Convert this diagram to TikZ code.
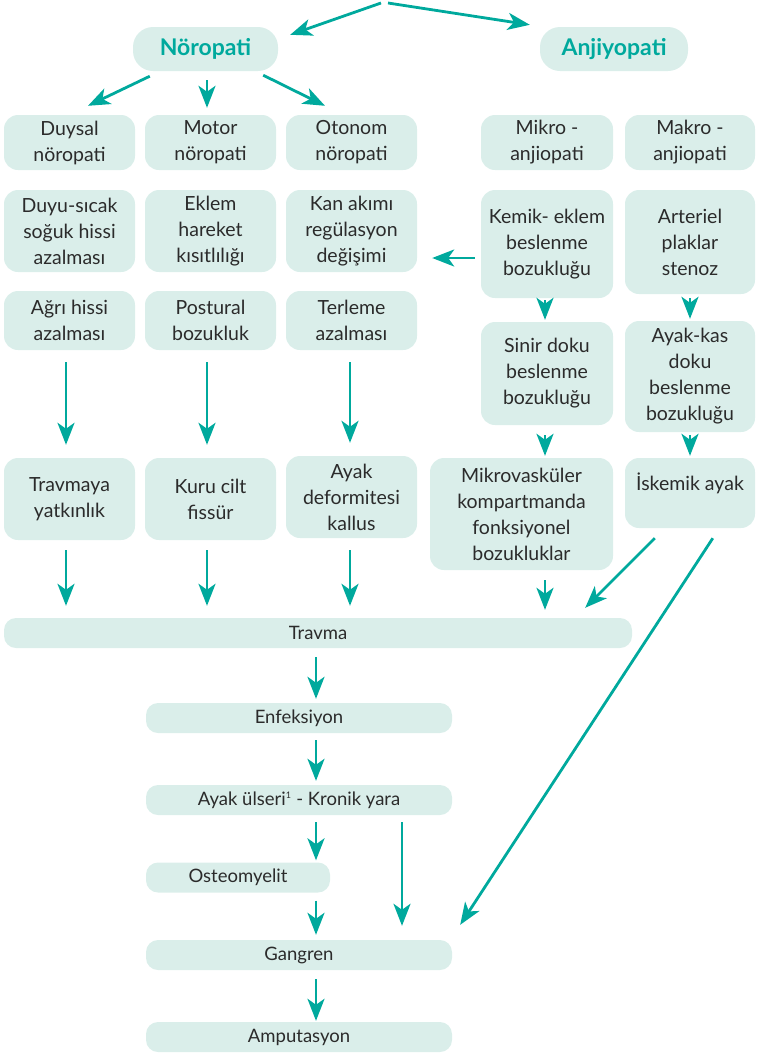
\documentclass[tikz,border=0pt]{standalone}
\usepackage{fontspec}
\setmainfont{Lato}
\usetikzlibrary{arrows.meta}
\definecolor{boxc}{HTML}{DAEEEA}
\definecolor{arr}{HTML}{00A99D}
\definecolor{txt}{HTML}{2B2B2B}
\begin{document}
\begin{tikzpicture}[x=1pt,y=-1pt,
  box/.style={fill=boxc, rounded corners=14pt, align=center, text=txt, inner sep=0pt,
    font=\fontsize{19.5}{26}\selectfont},
  wbox/.style={box, rounded corners=12pt, font=\fontsize{18.5}{22}\selectfont},
  head/.style={box, rounded corners=20pt, text=arr, font=\fontsize{23}{24}\selectfont\bfseries},
  arrow/.style={draw=arr, line width=2.8pt, -{Stealth[length=22pt,width=17pt,inset=6pt]}}]
\useasboundingbox (0,0) rectangle (758,1053);
% headers
\coordinate (top) at (384,3);
\node[head, minimum width=145, minimum height=44] (nor) at (205.5,49) {Nöropati};
\node[head, minimum width=148, minimum height=44] (anj) at (614,49) {Anjiyopati};
% row 1
\node[box, minimum width=131, minimum height=55] (duy) at (69.5,142.5) {Duysal\\nöropati};
\node[box, minimum width=131, minimum height=55] (mot) at (210.5,142.5) {Motor\\nöropati};
\node[box, minimum width=131, minimum height=55] (oto) at (351.5,142.5) {Otonom\\nöropati};
\node[box, minimum width=132, minimum height=55] (mik) at (547,142.5) {Mikro -\\anjiopati};
\node[box, minimum width=130, minimum height=55] (mak) at (690,142.5) {Makro -\\anjiopati};
% row 2
\node[box, minimum width=131, minimum height=82] (dsc) at (69.5,231) {Duyu-sıcak\\soğuk hissi\\azalması};
\node[box, minimum width=131, minimum height=82] (ekl) at (210.5,231) {Eklem\\hareket\\kısıtlılığı};
\node[box, minimum width=131, minimum height=82] (kan) at (351.5,231) {Kan akımı\\regülasyon\\değişimi};
\node[box, minimum width=132, minimum height=108] (kem) at (547,244) {Kemik- eklem\\beslenme\\bozukluğu};
\node[box, minimum width=130, minimum height=104] (art) at (690,242) {Arteriel\\plaklar\\stenoz};
% row 3
\node[box, minimum width=131, minimum height=59] (agr) at (69.5,320.5) {Ağrı hissi\\azalması};
\node[box, minimum width=131, minimum height=59] (pos) at (210.5,320.5) {Postural\\bozukluk};
\node[box, minimum width=131, minimum height=59] (ter) at (351.5,320.5) {Terleme\\azalması};
\node[box, minimum width=132, minimum height=103] (sin) at (547,373.5) {Sinir doku\\beslenme\\bozukluğu};
\node[box, minimum width=130, minimum height=111] (kas) at (690,376.5) {Ayak-kas\\doku\\beslenme\\bozukluğu};
% row 4
\node[box, minimum width=131, minimum height=82] (trv) at (69.5,499) {Travmaya\\yatkınlık};
\node[box, minimum width=131, minimum height=82] (kur) at (210.5,499) {Kuru cilt\\fissür};
\node[box, minimum width=131, minimum height=82] (def) at (351.5,497) {Ayak\\deformitesi\\kallus};
\node[box, minimum width=183, minimum height=112] (mkv) at (521.5,514) {Mikrovasküler\\kompartmanda\\fonksiyonel\\bozukluklar};
\node[box, minimum width=130, minimum height=70] (isk) at (690,493) {};
\node[text=txt, font=\fontsize{19.5}{26}\selectfont, inner sep=0pt] (iskt) at (690,483) {İskemik ayak};
% bottom chain
\node[wbox, minimum width=628, minimum height=30] (tra) at (318,633) {Travma};
\node[wbox, minimum width=306, minimum height=30] (enf) at (299,718) {Enfeksiyon};
\node[wbox, minimum width=306, minimum height=30] (ulc) at (299,800) {Ayak ülseri\textsuperscript{\fontsize{9}{9}\selectfont 1} - Kronik yara};
\node[wbox, minimum width=184, minimum height=30] (ost) at (238,877.5) {Osteomyelit};
\node[wbox, minimum width=306, minimum height=30] (gan) at (299,955) {Gangren};
\node[wbox, minimum width=306, minimum height=30] (amp) at (299,1037) {Amputasyon};
% arrows top
\draw[arrow] ([xshift=-3pt]top) -- ([xshift=12pt,yshift=-8pt]nor.north east);
\draw[arrow] ([xshift=4pt]top) -- ([xshift=-10pt,yshift=2pt]anj.north west);
\draw[arrow] ([xshift=17pt,yshift=-5pt]nor.south west) -- ([xshift=18.5pt,yshift=9pt]duy.north);
\draw[arrow] ([xshift=1.5pt,yshift=-9pt]nor.south) -- ([xshift=-3.5pt,yshift=7pt]mot.north);
\draw[arrow] ([xshift=-15pt,yshift=-4pt]nor.south east) -- ([xshift=-26.5pt,yshift=9pt]oto.north);
% anjio column arrows
\draw[arrow] ([xshift=-6pt,yshift=-14pt]kem.west) -- ([xshift=15pt,yshift=-27pt]kan.east);
\draw[arrow] ([xshift=-2pt,yshift=-2pt]kem.south) -- ([xshift=-2pt,yshift=2pt]sin.north);
\draw[arrow] ([yshift=-4pt]art.south) -- ([yshift=2pt]kas.north);
\draw[arrow] ([xshift=-2pt,yshift=-10pt]sin.south) -- ([xshift=-2pt,yshift=2pt]sin.south |- mkv.north);
\draw[arrow] ([yshift=-3pt]kas.south) -- ([yshift=2pt]isk.north);
% left columns
\draw[arrow] ([xshift=-3.5pt,yshift=-12pt]agr.south) -- ([xshift=-3.5pt,yshift=13pt]trv.north);
\draw[arrow] ([xshift=-3.5pt,yshift=-12pt]pos.south) -- ([xshift=-3.5pt,yshift=13pt]kur.north);
\draw[arrow] ([xshift=-1.5pt,yshift=-12pt]ter.south) -- ([xshift=-1.5pt,yshift=13pt]def.north);
\draw[arrow] ([xshift=-3.5pt,yshift=-10pt]trv.south) -- ([xshift=-3.5pt,yshift=12pt]trv.south |- tra.north);
\draw[arrow] ([xshift=-3.5pt,yshift=-10pt]kur.south) -- ([xshift=-3.5pt,yshift=12pt]kur.south |- tra.north);
\draw[arrow] ([xshift=-1.5pt,yshift=-12pt]def.south) -- ([xshift=-1.5pt,yshift=12pt]def.south |- tra.north);
\draw[arrow] ([xshift=-2pt,yshift=-10pt]sin.south |- mkv.south) -- ([xshift=-2pt,yshift=8pt]sin.south |- tra.north);
\draw[arrow] ([xshift=30pt,yshift=-10pt]isk.south west) -- ([xshift=-47pt,yshift=10pt]tra.north east);
\draw[arrow] ([xshift=88pt,yshift=-10pt]isk.south west) -- ([xshift=8pt,yshift=15pt]gan.north east);
% bottom chain arrows
\draw[arrow] ([xshift=-2pt,yshift=-9pt]tra.south) -- ([xshift=17pt,yshift=4pt]enf.north);
\draw[arrow] ([xshift=17pt,yshift=-7pt]enf.south) -- ([xshift=17pt,yshift=4pt]ulc.north);
\draw[arrow] ([xshift=17pt,yshift=-7pt]ulc.south) -- ([xshift=78pt,yshift=2pt]ost.north);
\draw[arrow] ([xshift=103pt,yshift=-7pt]ulc.south) -- ([xshift=103pt,yshift=14pt]gan.north);
\draw[arrow] ([xshift=78pt,yshift=-8pt]ost.south) -- ([xshift=17pt,yshift=5pt]gan.north);
\draw[arrow] ([xshift=17pt,yshift=-9pt]gan.south) -- ([xshift=17pt,yshift=1pt]amp.north);
\end{tikzpicture}
\end{document}
